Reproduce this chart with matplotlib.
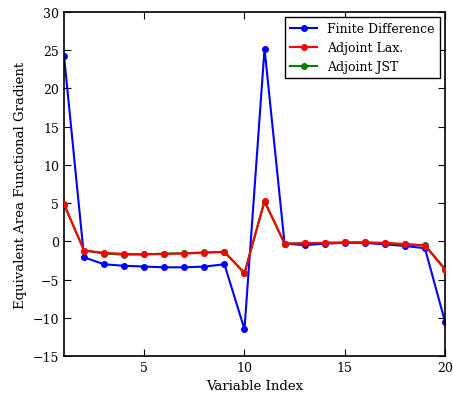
import matplotlib
matplotlib.use("Agg")
import matplotlib.pyplot as plt

plt.rcParams["font.family"] = "DejaVu Serif"
plt.rcParams["mathtext.fontset"] = "dejavuserif"

idx = list(range(1, 21))
finite_diff = [24.3, -2.1, -3.0, -3.2, -3.3, -3.4, -3.4, -3.3, -3.0, -11.5,
               25.2, -0.3, -0.5, -0.3, -0.2, -0.2, -0.4, -0.6, -0.9, -10.5]
adjoint_lax = [4.9, -1.2, -1.5, -1.65, -1.7, -1.65, -1.6, -1.5, -1.35, -4.2,
               5.3, -0.3, -0.25, -0.2, -0.15, -0.15, -0.2, -0.35, -0.55, -3.7]
adjoint_jst = [4.8, -1.2, -1.6, -1.75, -1.7, -1.6, -1.55, -1.45, -1.4, -4.1,
               5.2, -0.3, -0.25, -0.2, -0.15, -0.15, -0.25, -0.4, -0.5, -3.6]

fig = plt.figure(figsize=(4.53, 4.02), dpi=100)
ax = fig.add_axes([0.1413, 0.1119, 0.841, 0.8558])

ax.plot(idx, finite_diff, "-o", color="blue", lw=1.5, ms=4, label="Finite Difference")
ax.plot(idx, adjoint_lax, "-o", color="red", lw=1.5, ms=4, label="Adjoint Lax.", zorder=3)
ax.plot(idx, adjoint_jst, "-o", color="green", lw=1.5, ms=4, label="Adjoint JST", zorder=2.5)

ax.set_xlim(1, 20)
ax.set_ylim(-15, 30)
ax.set_xticks([5, 10, 15, 20])
ax.set_yticks(range(-15, 31, 5))
ax.tick_params(direction="in", top=True, right=True, length=5, labelsize=9)
for s in ax.spines.values():
    s.set_linewidth(1.2)

ax.set_xlabel("Variable Index", fontsize=9.5)
ax.set_ylabel("Equivalent Area Functional Gradient", fontsize=9.5)

leg = ax.legend(loc="upper right", fontsize=9, fancybox=False, framealpha=1,
                edgecolor="black", borderaxespad=0.4, handlelength=2.2)
leg.get_frame().set_linewidth(1.0)

fig.savefig("out.png", dpi=100)
